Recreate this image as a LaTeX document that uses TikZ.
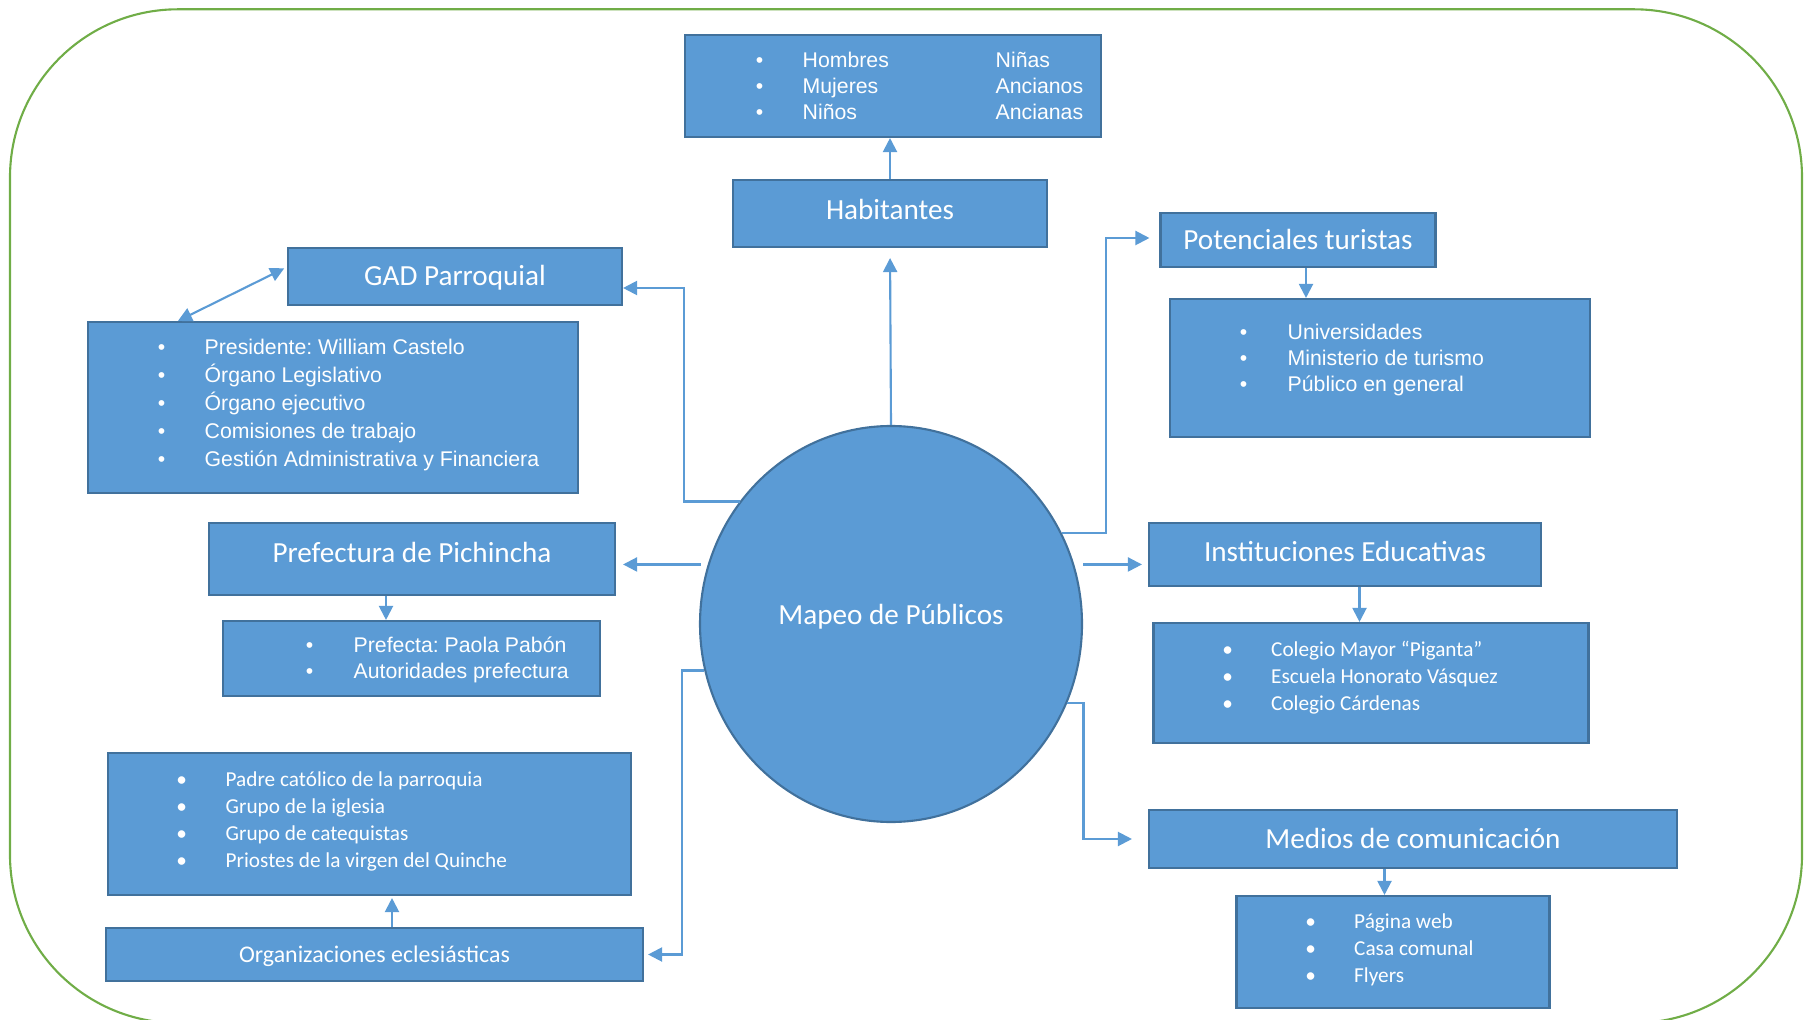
\documentclass[tikz,border=0pt]{standalone}
\usepackage{fontspec}
\usepackage{tikz}
\usetikzlibrary{arrows.meta,shapes.geometric}

\newfontfamily\calibri{Carlito}
\newfontfamily\arialfam{Liberation Sans}
\frenchspacing

\definecolor{boxblue}{HTML}{5B9BD5}
\definecolor{boxedge}{HTML}{41719C}
\definecolor{framegreen}{HTML}{70AD47}

\newcommand{\bul}{\makebox[0pt]{•}}

\tikzset{
  box/.style={draw=boxedge, fill=boxblue, line width=0.6pt, inner sep=0pt, text=white},
  title/.style={box, font=\calibri\fontsize{8.3}{9}\selectfont, text height=5.35pt, text depth=0pt},
  aitem/.style={anchor=base west, inner sep=0pt, text=white, font=\arialfam\fontsize{6.05}{7}\selectfont},
  citem/.style={anchor=base west, inner sep=0pt, text=white, font=\calibri\fontsize{6.05}{7}\selectfont},
  arr/.style={draw=boxblue, line width=0.6pt, -{Triangle[length=1.4mm,width=1.4mm]}},
  arrboth/.style={draw=boxblue, line width=0.6pt, {Triangle[length=1.4mm,width=1.4mm]}-{Triangle[length=1.4mm,width=1.4mm]}}
}

\begin{document}
\begin{tikzpicture}[x=1mm,y=-1mm]
    \useasboundingbox (0,0) rectangle (180.5,102.0);
    % frame
    \draw [framegreen, line width=0.6pt, rounded corners=16.8mm] (1.0,0.93) rectangle (180.2,102.3);

    % centre
    \node [box, ellipse, minimum width=38.2mm, minimum height=39.6mm,
           font=\calibri\fontsize{8.3}{9}\selectfont, text height=0pt, text depth=0pt]
          (mapeo) at (89.1,62.4) {Mapeo de Públicos};

    % Habitantes
    \node [title, text depth=1.65pt, minimum width=31.4mm, minimum height=6.7mm] (hab) at (89.0,21.35) {Habitantes};
    \node [box, minimum width=41.6mm, minimum height=10.2mm] (habl) at (89.3,8.6) {};
    \foreach \l/\r [count=\i] in {Hombres/Niñas, Mujeres/Ancianos, Niños/Ancianas} {
        \node [aitem] (habi\i) at (75.9,4.16+2.6*\i) {\bul\hspace{4.3mm}\l};
        \node [aitem] (habj\i) at (99.5,4.16+2.6*\i) {\r};
    }

    % GAD Parroquial
    \node [title, minimum width=33.4mm, minimum height=5.7mm] (gad) at (45.5,27.65) {GAD Parroquial};
    \node [box, minimum width=49.0mm, minimum height=17.1mm] (gadl) at (33.3,40.75) {};
    \foreach \t [count=\i] in {Presidente: William Castelo, Órgano Legislativo, Órgano ejecutivo,
                               Comisiones de trabajo, Gestión Administrativa y Financiera}
        \node [aitem] (gadi\i) at (16.1,32.66+2.8*\i) {\bul\hspace{4.3mm}\t};

    % Potenciales turistas
    \node [title, minimum width=27.5mm, minimum height=5.4mm] (pot) at (129.8,24.0) {Potenciales turistas};
    \node [box, minimum width=42.0mm, minimum height=13.8mm] (potl) at (138.0,36.8) {};
    \foreach \t [count=\i] in {Universidades, Ministerio de turismo, Público en general}
        \node [aitem] (poti\i) at (124.3,31.36+2.6*\i) {\bul\hspace{4.4mm}\t};

    % Prefectura
    \node [title, text depth=3.6pt, minimum width=40.6mm, minimum height=7.2mm] (pref) at (41.2,55.9) {Prefectura de Pichincha};
    \node [box, minimum width=37.7mm, minimum height=7.5mm] (prefl) at (41.15,65.85) {};
    \foreach \t [count=\i] in {Prefecta: Paola Pabón, Autoridades prefectura}
        \node [aitem] (prefi\i) at (30.9,62.66+2.6*\i) {\bul\hspace{4.4mm}\t};

    % Organizaciones
    \node [box, minimum width=52.3mm, minimum height=14.2mm] (orgl) at (36.95,82.4) {};
    \foreach \t [count=\i] in {Padre católico de la parroquia, Grupo de la iglesia,
                               Grupo de catequistas, Priostes de la virgen del Quinche}
        \node [citem] (orgi\i) at (18.1,75.9+2.7*\i) {\bul\hspace{4.4mm}\t};
    \node [title, font=\calibri\fontsize{6.8}{8}\selectfont, text height=4.4pt,
           minimum width=53.7mm, minimum height=5.3mm] (org) at (37.45,95.45) {Organizaciones eclesiásticas};

    % Instituciones
    \node [title, text depth=1.1pt, minimum width=39.2mm, minimum height=6.3mm] (inst) at (134.5,55.45) {Instituciones Educativas};
    \node [box, minimum width=43.5mm, minimum height=12.0mm] (instl) at (137.1,68.3) {};
    \foreach \t [count=\i] in {Colegio Mayor “Piganta”, Escuela Honorato Vásquez, Colegio Cárdenas}
        \node [citem] (insti\i) at (122.7,62.88+2.72*\i) {\bul\hspace{4.35mm}\t};

    % Medios
    \node [title, minimum width=52.8mm, minimum height=5.8mm] (med) at (141.3,83.9) {Medios de comunicación};
    \node [box, minimum width=31.3mm, minimum height=11.2mm] (medl) at (139.3,95.2) {};
    \foreach \t [count=\i] in {Página web, Casa comunal, Flyers}
        \node [citem] (medi\i) at (131.0,90.22+2.66*\i) {\bul\hspace{4.35mm}\t};

    % arrows
    \draw [arr, shorten >=1mm] (mapeo.north) -- (hab.south);
    \draw [arr] (hab.north) -- (hab.north |- habl.south);

    \draw [arr] (mapeo.141) -- ++(-5.6,0) |- ([yshift=-1.15mm]gad.east);
    \draw [arrboth, shorten >=0.3mm] ([xshift=9.1mm]gadl.north west) -- ([yshift=0.95mm]gad.west);

    \draw [arr, shorten >=1mm] (mapeo.28) -- ++(4.4,0) |- ([yshift=0.2mm]pot.west);
    \draw [arr] ([xshift=0.8mm]pot.south) -- ([xshift=0.8mm]pot.south |- potl.north);

    \draw [arr, shorten <=0.7mm, shorten >=0.7mm] (mapeo.162) -- (mapeo.162 -| pref.east);
    \draw [arr] ([xshift=-2.6mm]pref.south) -- ([xshift=-2.6mm]pref.south |- prefl.north);

    \draw [arr, shorten >=0.4mm] (mapeo.194) -- ++(-2.2,0) |- (org.east);
    \draw [arr, shorten >=0.2mm] ([xshift=1.75mm]org.north) -- ([xshift=1.75mm]org.north |- orgl.south);

    \draw [arr, shorten <=0.9mm, shorten >=0.6mm] (mapeo.18) -- (mapeo.18 -| inst.west);
    \draw [arr] ([xshift=1.45mm]inst.south) -- ([xshift=1.45mm]inst.south |- instl.north);

    \draw [arr, shorten >=1.6mm] (mapeo.336) -- ++(1.6,0) |- (med.west);
    \draw [arr] ([xshift=-2.85mm]med.south) -- ([xshift=-2.85mm]med.south |- medl.north);
\end{tikzpicture}
\end{document}
